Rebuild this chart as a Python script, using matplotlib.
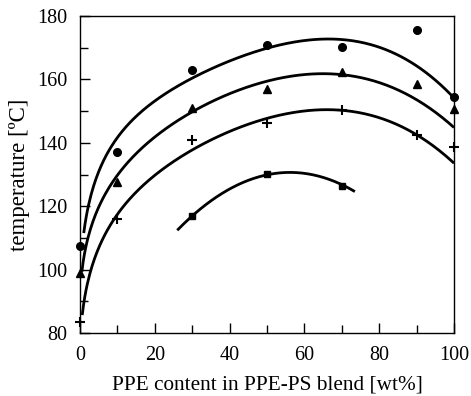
import numpy as np
import matplotlib
matplotlib.use("Agg")
import matplotlib.pyplot as plt
from matplotlib.ticker import MultipleLocator

plt.rcParams["font.family"] = ["Liberation Serif", "DejaVu Serif"]

# measured blend compositions (wt% PPE)
ppe_content = [0, 10, 30, 50, 70, 90, 100]
temp_circle = [107.6, 137.0, 163.0, 171.0, 170.3, 175.6, 154.3]
temp_triangle = [99.0, 127.5, 150.9, 157.1, 162.4, 158.4, 150.6]
temp_plus = [83.6, 115.9, 141.0, 146.2, 150.5, 142.5, 138.6]
square_content = [30, 50, 70]
temp_square = [117.0, 130.2, 126.4]

# guide-curve levels at reference compositions
guide_x_circle = [1, 10, 30, 50, 69, 90, 100]
guide_circle = [111.5, 141.8, 160.1, 170.1, 172.7, 164.0, 154.3]
guide_x_triangle = [0.5, 10, 30, 50, 69, 90, 100]
guide_triangle = [99.3, 129.8, 149.8, 159.1, 162.2, 153.0, 145.1]
guide_x_plus = [0.6, 10, 30, 50, 69, 90, 100]
guide_plus = [85.7, 117.2, 138.3, 147.2, 150.3, 143.0, 133.3]
guide_x_square = [26, 30, 50, 53, 70, 73.5]
guide_square = [112.7, 116.5, 130.2, 130.4, 126.4, 124.9]


def smooth_curve(xk, yk, n=300):
    xk = np.asarray(xk, float)
    yk = np.asarray(yk, float)

    def basis(t):
        t = t / 100.0
        return np.column_stack([np.ones_like(t), np.sqrt(t), t, t**2, t**3])

    coef, *_ = np.linalg.lstsq(basis(xk), yk, rcond=None)
    xs = np.linspace(xk.min(), xk.max(), n)
    return xs, basis(xs) @ coef


def smooth_quad(xk, yk, n=200):
    c = np.polyfit(xk, yk, 2)
    xs = np.linspace(min(xk), max(xk), n)
    return xs, np.polyval(c, xs)


fig = plt.figure(figsize=(4.71, 3.96), dpi=100)
ax = fig.add_axes([80 / 471, 1 - 333 / 396, 374 / 471, 317 / 396])

for gx, gy in [(guide_x_circle, guide_circle),
               (guide_x_triangle, guide_triangle),
               (guide_x_plus, guide_plus)]:
    xs, ys = smooth_curve(gx, gy)
    ax.plot(xs, ys, color="black", lw=2.0, solid_capstyle="butt")
xs, ys = smooth_quad(guide_x_square, guide_square)
ax.plot(xs, ys, color="black", lw=2.0, solid_capstyle="butt")

ax.plot(ppe_content, temp_circle, "o", color="black", ms=5.5, clip_on=False, zorder=5)
ax.plot(ppe_content, temp_triangle, "^", color="black", ms=5.5, clip_on=False, zorder=5)
ax.plot(ppe_content, temp_plus, "+", color="black", ms=7, mew=1.5, clip_on=False, zorder=5)
ax.plot(square_content, temp_square, "s", color="black", ms=5, clip_on=False, zorder=5)

ax.set_xlim(0, 100)
ax.set_ylim(80, 180)
ax.xaxis.set_major_locator(MultipleLocator(20))
ax.xaxis.set_minor_locator(MultipleLocator(10))
ax.yaxis.set_major_locator(MultipleLocator(20))
ax.yaxis.set_minor_locator(MultipleLocator(10))
ax.tick_params(which="both", direction="in", top=False, right=False,
               labelsize=14.5, width=1.0, pad=9)
ax.tick_params(which="major", length=7)
ax.tick_params(which="minor", length=6)
for sp in ax.spines.values():
    sp.set_linewidth(1.0)

ax.set_xlabel("PPE content in PPE-PS blend [wt%]", fontsize=15.3, labelpad=8)
ax.set_ylabel("temperature [ºC]", fontsize=16.5, labelpad=5)

fig.savefig("out.png", dpi=100)
